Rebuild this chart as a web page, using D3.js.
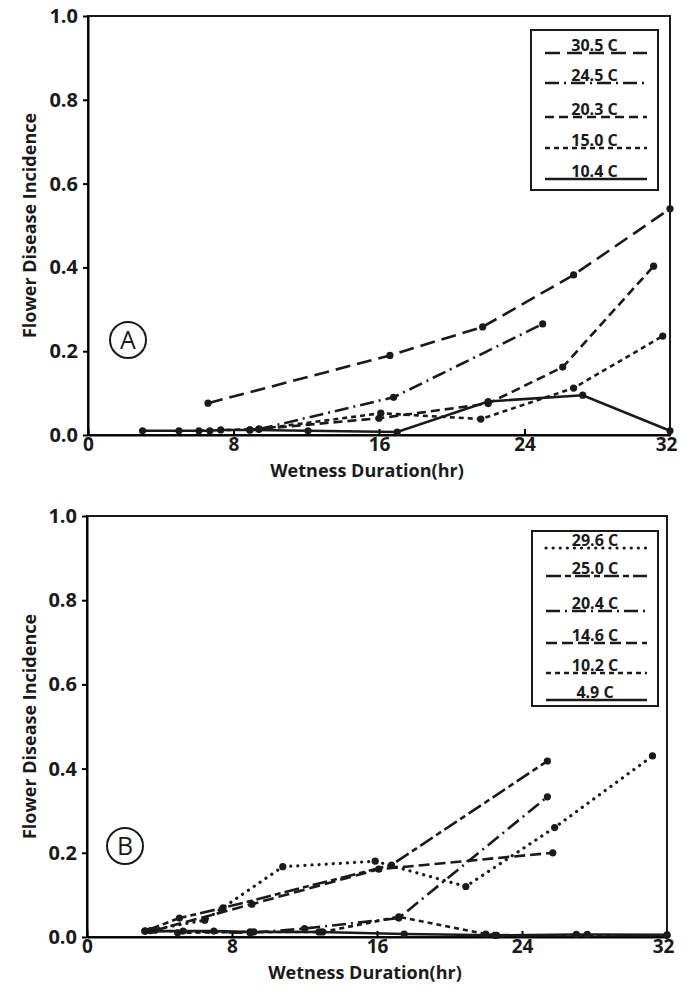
<!DOCTYPE html>
<html>
<head>
<meta charset="utf-8">
<script src="https://cdn.jsdelivr.net/npm/d3@7"></script>
<style>
  body { margin: 0; background: #fff; }
  text { font-family: "Open Sans", "DejaVu Sans", sans-serif; font-weight: bold; fill: #1a1a1a; }
</style>
</head>
<body>
<div id="chart"></div>
<script>
const width = 682;
const height = 997;

// tick labels
const xTicks = [0, 8, 16, 24, 32];
const yTicks = [0, 0.2, 0.4, 0.6, 0.8, 1.0];

// Panel A : temperatures and [hours, incidence]
const tempsA = ["30.5 C", "24.5 C", "20.3 C", "15.0 C", "10.4 C"];
const a305 = [[6.6, 0.076], [16.6, 0.19], [21.7, 0.258], [26.7, 0.382], [32, 0.54]];
const a245 = [[9.4, 0.014], [16.8, 0.09], [25, 0.265]];
const a203 = [[8.9, 0.012], [16, 0.04], [22, 0.075], [26.1, 0.162], [31.1, 0.403]];
const a150 = [[6.1, 0.01], [9.4, 0.014], [16.1, 0.052], [21.6, 0.038], [26.7, 0.112], [31.6, 0.236]];
const a104 = [[3, 0.01], [5, 0.01], [6.7, 0.01], [7.3, 0.012], [8.9, 0.012], [12.1, 0.01], [17, 0.007], [22, 0.08], [27.2, 0.095], [32, 0.01]];

// Panel B
const tempsB = ["29.6 C", "25.0 C", "20.4 C", "14.6 C", "10.2 C", "4.9 C"];
const b296 = [[3.2, 0.014], [6.5, 0.04], [10.8, 0.167], [15.9, 0.18], [20.9, 0.12], [25.8, 0.26], [31.2, 0.43]];
const b250 = [[3.2, 0.014], [5.1, 0.045], [7.5, 0.069], [16.8, 0.171], [25.4, 0.418]];
const b204 = [[3.5, 0.015], [9, 0.01], [12, 0.02], [17.2, 0.045], [25.4, 0.333]];
const b146 = [[3.75, 0.016], [9.1, 0.078], [16.1, 0.161], [25.7, 0.2]];
const b102 = [[5, 0.01], [9, 0.012], [13, 0.012], [17.2, 0.048], [22, 0.007], [22.6, 0.004], [32, 0.004]];
const b49 = [[3.2, 0.014], [5.3, 0.014], [7, 0.014], [9.2, 0.012], [12.8, 0.012], [17.5, 0.007], [22.5, 0.004], [27, 0.006], [27.6, 0.006], [32, 0.005]];

// line styles (dash arrays)
const LONG = "15,7", DASHDOT = "14,5,2,5", MED = "9,5", SHORT = "5,4", DOT = "0.1,7", LONGSHORT = "15,4,6,4", SOLID = null;

const panels = [
  {
    letter: "A", x0: 88, x1: 670, y0: 435, y1: 16, circle: [128, 340],
    legend: { x: 531, y: 30, w: 127, h: 160, rows: [53, 83, 117, 148, 179] },
    series: [
      { name: tempsA[0], data: a305, dash: LONG },
      { name: tempsA[1], data: a245, dash: DASHDOT },
      { name: tempsA[2], data: a203, dash: MED },
      { name: tempsA[3], data: a150, dash: SHORT },
      { name: tempsA[4], data: a104, dash: SOLID }
    ]
  },
  {
    letter: "B", x0: 87, x1: 667, y0: 937, y1: 516, circle: [125, 846],
    legend: { x: 532, y: 531, w: 126, h: 175, rows: [548, 576, 611, 643, 673, 700] },
    series: [
      { name: tempsB[0], data: b296, dash: DOT },
      { name: tempsB[1], data: b250, dash: LONGSHORT },
      { name: tempsB[2], data: b204, dash: DASHDOT },
      { name: tempsB[3], data: b146, dash: "11,5" },
      { name: tempsB[4], data: b102, dash: SHORT },
      { name: tempsB[5], data: b49, dash: SOLID }
    ]
  }
];

const svg = d3.select("#chart")
  .append("svg")
  .attr("width", width)
  .attr("height", height);

panels.forEach(p => {
  const x = d3.scaleLinear().domain([0, 32]).range([p.x0, p.x1]);
  const y = d3.scaleLinear().domain([0, 1]).range([p.y0, p.y1]);
  const g = svg.append("g");

  // frame
  g.append("rect")
    .attr("x", p.x0).attr("y", p.y1)
    .attr("width", p.x1 - p.x0).attr("height", p.y0 - p.y1)
    .attr("fill", "none").attr("stroke", "#1a1a1a").attr("stroke-width", 2);

  // x axis (ticks inward)
  const xAx = g.append("g")
    .attr("transform", `translate(0,${p.y0})`)
    .call(d3.axisBottom(x).tickValues(xTicks).tickSizeInner(-6).tickSizeOuter(0).tickPadding(2));
  xAx.select(".domain").attr("stroke-width", 2);
  xAx.selectAll(".tick line").attr("stroke-width", 2);
  xAx.selectAll("text").style("font-size", "19px").attr("fill", "#1a1a1a");
  xAx.selectAll(".tick text").filter(d => d === 32).attr("dx", "-4");

  // y axis
  const yAx = g.append("g")
    .attr("transform", `translate(${p.x0},0)`)
    .call(d3.axisLeft(y).tickValues(yTicks).tickFormat(d3.format(".1f")).tickSizeInner(5).tickSizeOuter(0).tickPadding(5));
  yAx.select(".domain").attr("stroke-width", 2);
  yAx.selectAll(".tick line").attr("stroke-width", 2);
  yAx.selectAll("text").style("font-size", "20px").attr("fill", "#1a1a1a");

  // axis titles
  g.append("text")
    .attr("x", (p.x0 + p.x1) / 2 - 12)
    .attr("y", p.y0 + 42)
    .attr("text-anchor", "middle")
    .style("font-size", "18px")
    .text("Wetness Duration(hr)");

  g.append("text")
    .attr("transform", `translate(36,${(p.y0 + p.y1) / 2}) rotate(-90)`)
    .attr("text-anchor", "middle")
    .style("font-size", "18px")
    .text("Flower Disease Incidence");

  // panel letter
  g.append("circle")
    .attr("cx", p.circle[0]).attr("cy", p.circle[1]).attr("r", 18)
    .attr("fill", "none").attr("stroke", "#1a1a1a").attr("stroke-width", 2);
  g.append("text")
    .attr("x", p.circle[0]).attr("y", p.circle[1] + 9)
    .attr("text-anchor", "middle")
    .style("font-size", "25px").style("font-weight", "normal")
    .text(p.letter);

  // series
  const line = d3.line().x(d => x(d[0])).y(d => y(d[1]));
  p.series.forEach(s => {
    g.append("path")
      .datum(s.data)
      .attr("d", line)
      .attr("fill", "none")
      .attr("stroke", "#1a1a1a")
      .attr("stroke-width", s.dash === DOT ? 3.2 : 2.6)
      .attr("stroke-linecap", s.dash === DOT ? "round" : "butt")
      .attr("stroke-dasharray", s.dash);
    g.selectAll(null)
      .data(s.data)
      .enter()
      .append("circle")
      .attr("cx", d => x(d[0]))
      .attr("cy", d => y(d[1]))
      .attr("r", 3.6)
      .attr("fill", "#1a1a1a");
  });

  // legend
  const L = p.legend;
  g.append("rect")
    .attr("x", L.x).attr("y", L.y).attr("width", L.w).attr("height", L.h)
    .attr("fill", "#fff").attr("stroke", "#1a1a1a").attr("stroke-width", 2);
  p.series.forEach((s, i) => {
    const ly = L.rows[i];
    g.append("line")
      .attr("x1", L.x + 14).attr("x2", L.x + L.w - 11)
      .attr("y1", ly).attr("y2", ly)
      .attr("stroke", "#1a1a1a")
      .attr("stroke-width", s.dash === DOT ? 3.2 : 2.6)
      .attr("stroke-linecap", s.dash === DOT ? "round" : "butt")
      .attr("stroke-dasharray", s.dash);
    g.append("text")
      .attr("x", L.x + L.w / 2)
      .attr("y", ly - 2)
      .attr("text-anchor", "middle")
      .style("font-size", "16px")
      .text(s.name);
  });
});
</script>
</body>
</html>
